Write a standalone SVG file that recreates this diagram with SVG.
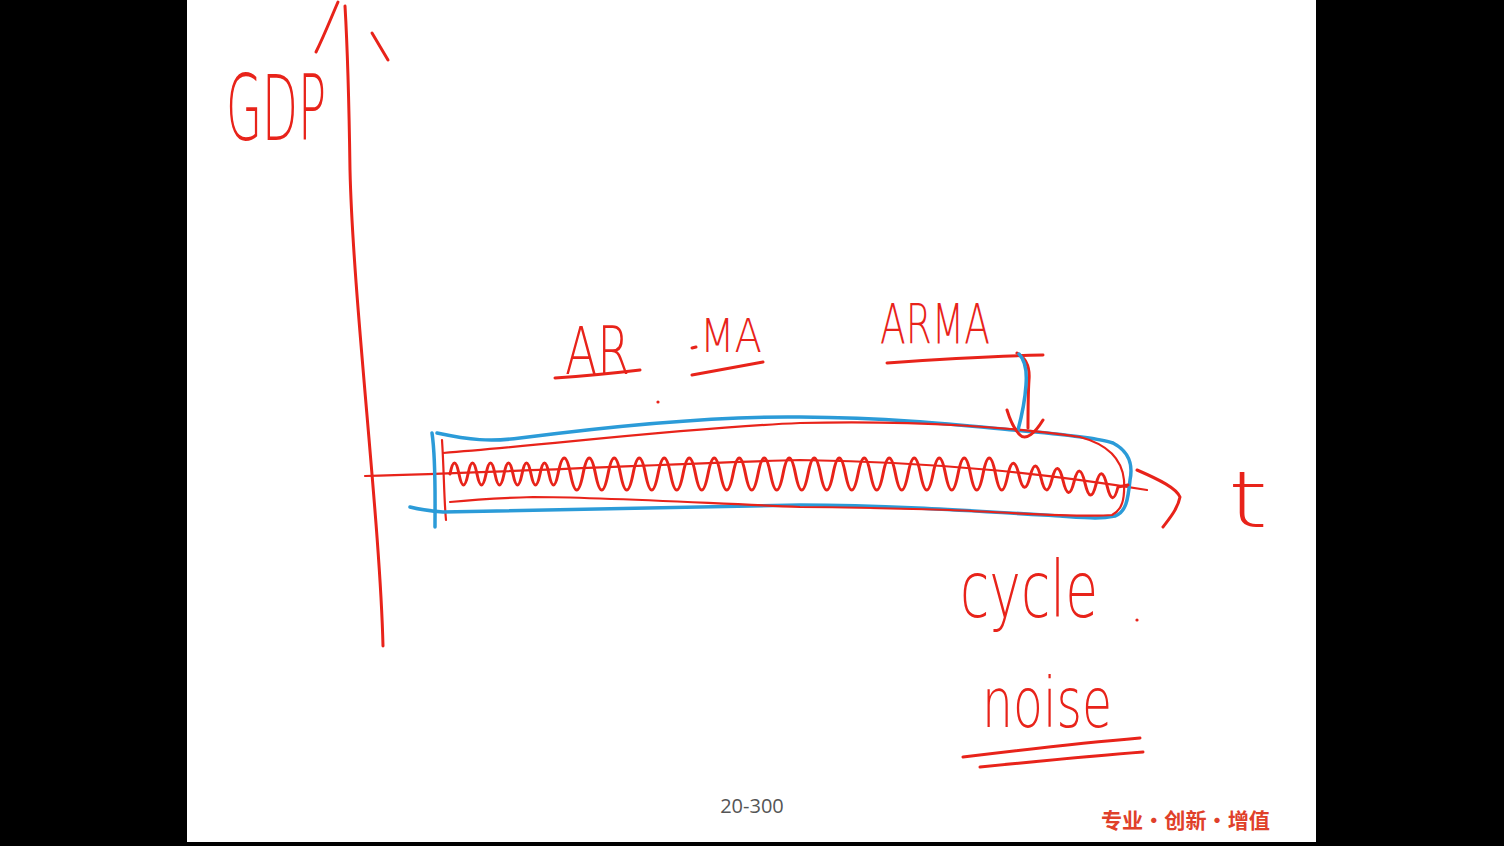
<svg xmlns="http://www.w3.org/2000/svg" width="1504" height="846" viewBox="0 0 1504 846">
<style>
.r{fill:none;stroke:#e8231a;stroke-width:3;stroke-linecap:round;stroke-linejoin:round}
.rt{fill:none;stroke:#e8231a;stroke-width:2.2;stroke-linecap:round;stroke-linejoin:round}
.b{fill:none;stroke:#2b9bd8;stroke-width:3.5;stroke-linecap:round;stroke-linejoin:round}
.hw{fill:#e8231a;font-family:"DejaVu Sans","Liberation Sans",sans-serif;font-weight:200}
</style>
<rect x="0" y="0" width="1504" height="846" fill="#000"/>
<rect x="187" y="0" width="1129" height="842" fill="#fff"/>

<g id="axes">
<path class="r" d="M383,646 C380,520 353,300 350,170 C349,100 347,40 345,6"/>
<path class="r" d="M316,52 C324,36 331,18 338,2"/>
<path class="r" d="M372,33 L388,60"/>
<path class="rt" d="M365,476 C520,472 680,463 800,460 C950,462 1060,476 1147,490"/>
<path class="r" d="M1137,470 C1160,480 1176,488 1180,497 C1178,508 1170,518 1163,527"/>
</g>

<g id="labels">
<text class="hw" x="226" y="140" font-size="90" textLength="100" lengthAdjust="spacingAndGlyphs">GDP</text>
<text class="hw" x="565" y="374" font-size="66" textLength="65" lengthAdjust="spacingAndGlyphs">AR</text>
<path class="r" d="M555,378 C585,376 615,373 640,370"/>
<path class="r" d="M692,348 L696,347"/>
<text class="hw" x="700" y="352" font-size="46" textLength="62" lengthAdjust="spacingAndGlyphs">MA</text>
<path class="r" d="M692,375 C715,371 740,366 763,362"/>
<text class="hw" x="880" y="343" font-size="55" textLength="110" lengthAdjust="spacingAndGlyphs">ARMA</text>
<path class="r" d="M887,363 C940,359 990,356 1043,355"/>
<circle cx="658" cy="402" r="1.6" fill="#e8231a"/>
<text class="hw" x="1228" y="527" font-size="78" textLength="40" lengthAdjust="spacingAndGlyphs">t</text>
<text class="hw" x="960" y="617" font-size="78" textLength="138" lengthAdjust="spacingAndGlyphs">cycle</text>
<circle cx="1137" cy="620" r="1.6" fill="#e8231a"/>
<text class="hw" x="982" y="727" font-size="70" textLength="130" lengthAdjust="spacingAndGlyphs">noise</text>
<path class="r" d="M963,757 C1020,750 1080,743 1140,738"/>
<path class="r" d="M980,767 C1040,761 1090,756 1143,752"/>
</g>

<g id="band">
<path class="b" d="M432,433 C436,460 435,500 435,527"/>
<path class="rt" d="M442,440 C444,470 444,500 446,520"/>
<path class="b" d="M437,433 C470,440 490,442 520,438 C620,425 720,416 800,417 C900,418 960,425 1013,430 C1060,434 1100,438 1113,443 C1130,452 1133,465 1130,480 C1128,500 1126,512 1115,516 C1100,519 1090,518 1060,516 C960,510 880,505 800,505 C650,507 520,511 443,512 C430,511 418,509 410,507"/>
<path class="rt" d="M443,453 C550,445 680,428 800,423 C920,420 1020,428 1080,437 C1110,445 1122,460 1124,480 C1125,500 1122,510 1112,515 C1080,518 1000,512 950,510 C880,508 840,507 800,507 C700,503 600,497 533,497 C500,498 470,500 450,502"/>
<path class="r" d="M1017,353 C1026,358 1030,368 1029,380 C1028,395 1028,410 1028,428"/>
<path class="b" d="M1019,354 C1025,360 1027,372 1026,385 C1025,400 1022,415 1018,430"/>
<path class="r" d="M1007,410 C1010,420 1013,428 1020,435 C1026,441 1035,433 1043,420"/>
</g>

<g id="wave">
<path class="r" stroke-width="3.3" d="M450,474 q4.5,-22 9,0 t9,0 t9,0 t9,0 t9,0 t9,0 t9,0 t9,0 t9,0 t9,0 t9,0 t9,0 q6.25,-32 12.5,0 t12.5,0 t12.5,0 t12.5,0 t12.5,0 t12.5,0 t12.5,0 t12.5,0 t12.5,0 t12.5,0 t12.5,0 t12.5,0 t12.5,0 t12.5,0 t12.5,0 t12.5,0 t12.5,0 t12.5,0 t12.5,0 t12.5,0 t12.5,0 t12.5,0 t12.5,0 t12.5,0 t12.5,0 t12.5,0 t12.5,0 t12.5,0 t12.5,0 t12.5,0 t12.5,0 t12.5,0 t12.5,0 t12.5,0 t12.5,0 t12.5,0 q5.5,-22 11,1.3 t11,1.3 t11,1.3 t11,1.3 t11,1.3 t11,1.3 t11,1.3 t11,1.3 t11,1.3 t11,1.3 l10,-2"/>
</g>

<g id="footer">
<text x="752" y="813" font-size="20" fill="#555" text-anchor="middle" font-family="'Open Sans','Noto Sans',sans-serif">20-300</text>
<text x="1101" y="828" font-size="21" fill="#e0402a" font-weight="bold" font-family="'Noto Sans CJK SC',sans-serif" textLength="169" lengthAdjust="spacingAndGlyphs">专业·创新·增值</text>
</g>
</svg>
